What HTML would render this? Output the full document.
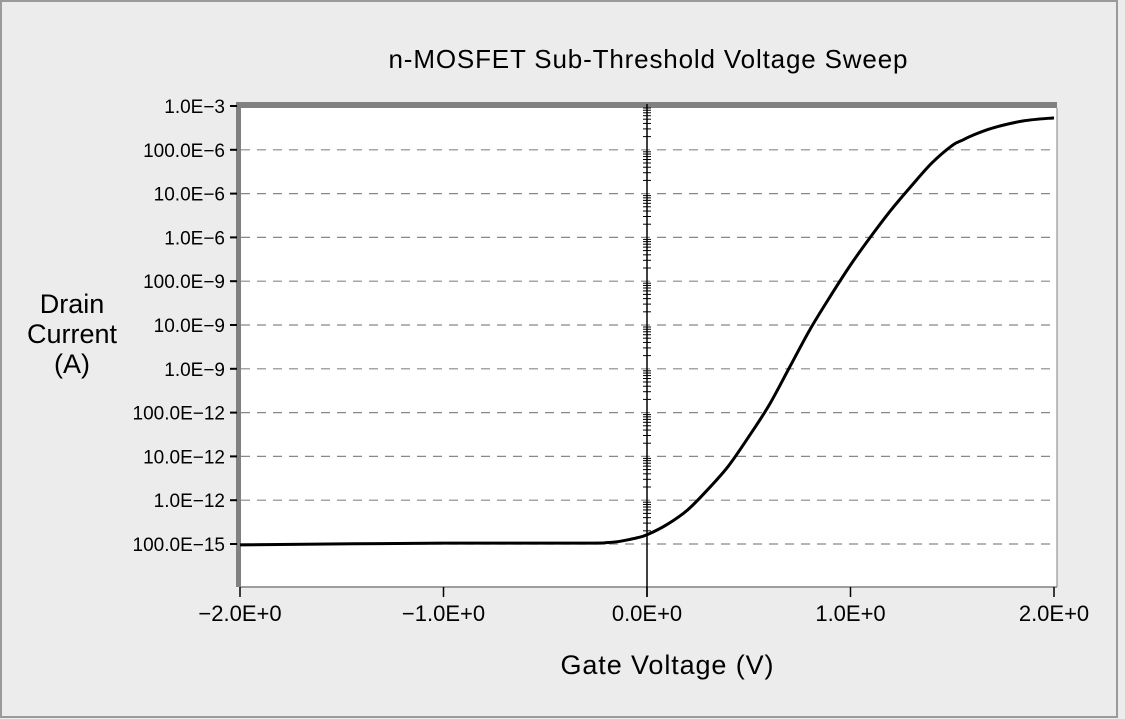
<!DOCTYPE html>
<html><head><meta charset="utf-8"><style>
html,body{margin:0;padding:0;background:#ececec;}
svg{display:block;font-family:"Liberation Sans","DejaVu Sans",sans-serif;}
</style></head><body>
<svg id="chart" width="1125" height="719" viewBox="0 0 1125 719">
<rect x="1" y="1" width="1116" height="716" fill="#ececec" stroke="#9a9a9a" stroke-width="2"/>
<text x="648" y="68" font-size="26" text-anchor="middle" fill="#000" textLength="519">n-MOSFET Sub-Threshold Voltage Sweep</text>
<rect x="240" y="108" width="817" height="479" fill="#fff"/>
<rect x="236" y="102" width="821" height="6" fill="#808080"/>
<rect x="236" y="102" width="5" height="485" fill="#808080"/>
<line x1="1057" y1="108" x2="1057" y2="587" stroke="#808080" stroke-width="1"/>
<line x1="240" y1="587" x2="1057" y2="587" stroke="#808080" stroke-width="1.5"/>
<g id="grid"></g><g id="yticks"></g><g id="xticks"></g><g id="zeroaxis"></g>
<path id="curve" fill="none" stroke="#000" stroke-width="3" stroke-linejoin="round"/>
<text x="667" y="674" font-size="27" text-anchor="middle" textLength="213">Gate Voltage (V)</text>
<text font-size="27" text-anchor="middle"><tspan x="72" y="313">Drain</tspan><tspan x="72" y="343">Current</tspan><tspan x="72" y="373">(A)</tspan></text>
</svg>
<script>
const yDecades=[-3,-4,-5,-6,-7,-8,-9,-10,-11,-12,-13];
const yTickLabels=["1.0E\u22123","100.0E\u22126","10.0E\u22126","1.0E\u22126","100.0E\u22129","10.0E\u22129","1.0E\u22129","100.0E\u221212","10.0E\u221212","1.0E\u221212","100.0E\u221215"];
const xTicks=[-2,-1,0,1,2];
const xTickLabels=["\u22122.0E+0","\u22121.0E+0","0.0E+0","1.0E+0","2.0E+0"];
const gateV=[-2,-1,-0.3,-0.2,-0.15,-0.1,-0.05,0,0.1,0.2,0.3,0.4,0.5,0.6,0.7,0.8,0.9,1.0,1.1,1.2,1.3,1.4,1.5,1.55,1.6,1.7,1.85,2.0];
const logId=[-13.02,-12.98,-12.98,-12.97,-12.95,-12.91,-12.86,-12.79,-12.55,-12.22,-11.75,-11.22,-10.55,-9.83,-8.97,-8.11,-7.35,-6.63,-5.98,-5.37,-4.82,-4.30,-3.90,-3.78,-3.67,-3.50,-3.34,-3.27];
const NS="http://www.w3.org/2000/svg";
const xS=v=>647+v*203.5;
const yS=d=>106+(-3-d)*43.8;
function mk(t,a,p){const e=document.createElementNS(NS,t);for(const k in a)e.setAttribute(k,a[k]);p.appendChild(e);return e;}
const grid=document.getElementById('grid'),yt=document.getElementById('yticks'),xt=document.getElementById('xticks'),za=document.getElementById('zeroaxis');
yDecades.forEach((d,i)=>{
  const y=yS(d);
  if(i>0){const g=mk('line',{x1:241,x2:1052,y1:y,y2:y,stroke:'#888','stroke-dasharray':'9 7','stroke-width':1.2},grid);
  
  }
  mk('line',{x1:230,x2:237,y1:y,y2:y,stroke:'#000','stroke-width':2},yt);
  const t=mk('text',{x:225,y:y+7,'font-size':19,'text-anchor':'end'},yt);t.textContent=yTickLabels[i];
  
  
  if(i<yDecades.length-1){for(let m=2;m<=9;m++){const yy=yS(d-1+Math.log10(m));
    mk('line',{x1:643,x2:651,y1:yy,y2:yy,stroke:'#000','stroke-width':1},za);}}
});
mk('line',{x1:647,x2:647,y1:104,y2:597,stroke:'#000','stroke-width':1.5},za);
xTicks.forEach((v,i)=>{
  const x=xS(v);
  mk('line',{x1:x,x2:x,y1:587,y2:597,stroke:'#000','stroke-width':1.5},xt);
  const t=mk('text',{x:x,y:621,'font-size':22,'text-anchor':'middle'},xt);t.textContent=xTickLabels[i];
  
  
});
const P=gateV.map((v,i)=>[xS(v),yS(logId[i])]);
let d='M'+P[0][0]+','+P[0][1];
for(let i=0;i<P.length-1;i++){const p0=P[Math.max(0,i-1)],p1=P[i],p2=P[i+1],p3=P[Math.min(P.length-1,i+2)];
 d+=' C'+(p1[0]+(p2[0]-p0[0])/6)+','+(p1[1]+(p2[1]-p0[1])/6)+' '+(p2[0]-(p3[0]-p1[0])/6)+','+(p2[1]-(p3[1]-p1[1])/6)+' '+p2[0]+','+p2[1];}
document.getElementById('curve').setAttribute('d',d);
</script>
</body></html>
